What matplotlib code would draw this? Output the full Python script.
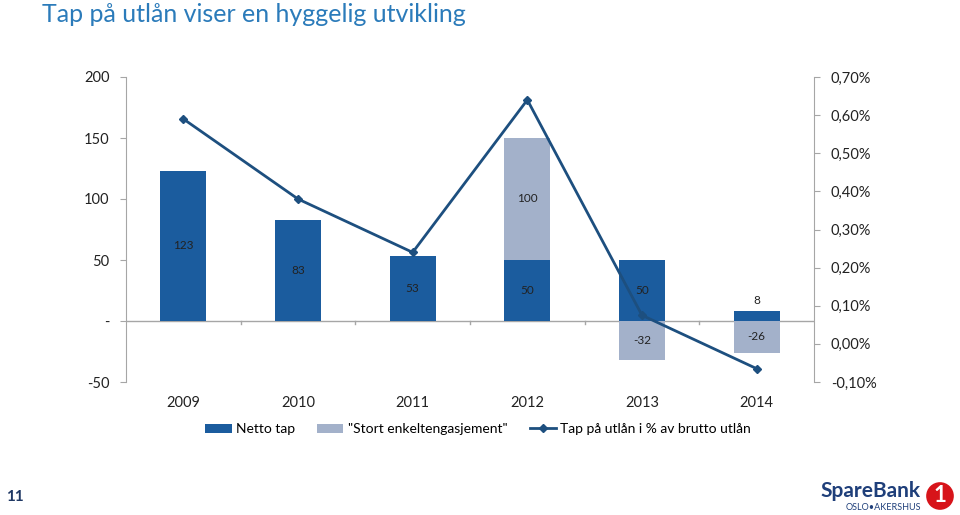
import numpy as np
import matplotlib.pyplot as plt
from matplotlib.ticker import FuncFormatter

plt.rcParams["font.family"] = ["Lato", "DejaVu Sans"]

# -- data ----------------------------------------------------------
years = ["2009", "2010", "2011", "2012", "2013", "2014"]
netto_tap = [123, 83, 53, 50, 50, 8]
stort_eng = [0, 0, 0, 100, -32, -26]
tap_pct = [0.59, 0.38, 0.24, 0.64, 0.075, -0.065]

# -- colours -------------------------------------------------------
DARK = "#1B5C9E"
LIGHT = "#A3B1CA"
LINE = "#1D4F7F"
TITLE = "#2B7BBA"
AXIS = "#A6A6A6"
TEXT = "#222222"

fig = plt.figure(figsize=(9.6, 5.15), dpi=100)
ax = fig.add_axes([126 / 960, 1 - 382 / 515, 688 / 960, 305 / 515])
x = np.arange(len(years))
w = 0.4

netto = np.array(netto_tap)
stort = np.array(stort_eng)
# large single exposure stacks on top when positive, goes below zero when negative
stort_bottom = np.where(stort > 0, netto, 0)

ax.bar(x, netto, w, color=DARK, zorder=2, label="Netto tap")
ax.bar(x, stort, w, bottom=stort_bottom, color=LIGHT, zorder=2,
       label='"Stort enkeltengasjement"')

for xi, n, s, sb in zip(x, netto, stort, stort_bottom):
    if n > 20:
        ax.text(xi, n / 2, str(n), ha="center", va="center", fontsize=8.5, color=TEXT, zorder=5)
    else:
        ax.text(xi, n + 9, str(n), ha="center", va="center", fontsize=8.5, color=TEXT, zorder=5)
    if s != 0:
        ax.text(xi, sb + s / 2, str(s), ha="center", va="center", fontsize=8.5, color=TEXT, zorder=5)

ax.set_xlim(-0.5, len(years) - 0.5)
ax.set_ylim(-50, 200)
ax.set_yticks([-50, 0, 50, 100, 150, 200])
ax.yaxis.set_major_formatter(FuncFormatter(lambda v, p: "-" if v == 0 else f"{v:.0f}"))
ax.axhline(0, color=AXIS, lw=1, zorder=1)
for b in np.arange(0.5, len(years) - 0.5):
    ax.plot([b, b], [0, -2.5], color=AXIS, lw=1, zorder=1)

ax.set_xticks(x)
ax.set_xticklabels(years)
ax.tick_params(axis="x", length=0, pad=10, labelsize=10.5, colors=TEXT)
ax.tick_params(axis="y", length=4, color=AXIS, labelsize=10.5, labelcolor=TEXT, pad=8)
for s in ["top", "bottom", "right"]:
    ax.spines[s].set_visible(False)
ax.spines["left"].set_color(AXIS)

ax2 = ax.twinx()
ax2.plot(x, tap_pct, color=LINE, lw=2, marker="D", ms=4.5, zorder=4,
         label="Tap på utlån i % av brutto utlån")
ax2.set_ylim(-0.1, 0.7)
ax2.set_yticks(np.arange(-0.1, 0.71, 0.1))
ax2.yaxis.set_major_formatter(FuncFormatter(lambda v, p: f"{v:.2f}%".replace(".", ",").replace("-0,00", "0,00")))
ax2.tick_params(axis="y", length=4, color=AXIS, labelsize=10.5, labelcolor=TEXT, pad=8)
for s in ["top", "bottom", "left"]:
    ax2.spines[s].set_visible(False)
ax2.spines["right"].set_color(AXIS)

h1, l1 = ax.get_legend_handles_labels()
h2, l2 = ax2.get_legend_handles_labels()
fig.legend(h1 + h2, l1 + l2, loc="center", bbox_to_anchor=(478 / 960, 1 - 429 / 515),
           ncol=3, frameon=False, fontsize=10, handlelength=1.9, handleheight=0.6,
           columnspacing=1.6, handletextpad=0.3)

fig.text(42 / 960, 1 - 15 / 515, "Tap på utlån viser en hyggelig utvikling",
         fontsize=18, color=TITLE, va="center", ha="left")

# footer: page number and logo text
fig.text(6 / 960, 1 - 497 / 515, "11", fontsize=11, color="#1F3864", weight="bold", va="center")
fig.text(921 / 960, 1 - 491 / 515, "SpareBank", fontsize=15, color="#1F3F7A", weight="bold",
         ha="right", va="center")
fig.text(921 / 960, 1 - 507 / 515, "OSLO•AKERSHUS", fontsize=6.5, color="#1F3F7A",
         ha="right", va="center")
fig.text(940 / 960, 1 - 496 / 515, "1", fontsize=16, color="white", weight="bold", ha="center",
         va="center", bbox=dict(boxstyle="circle,pad=0.15", fc="#D7141A", ec="none"))

fig.savefig("out.png", dpi=100)
